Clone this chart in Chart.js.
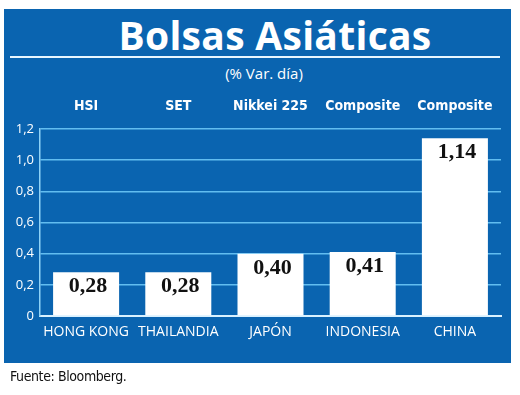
<!DOCTYPE html>
<html>
<head>
<meta charset="utf-8">
<script src="https://cdn.jsdelivr.net/npm/chart.js@4/dist/chart.umd.min.js"></script>
<style>
  html, body { margin: 0; padding: 0; background: #fff; }
  #wrap { position: relative; width: 520px; height: 395px; overflow: hidden; }
  #box { position: absolute; left: 4px; top: 9px; width: 507px; height: 354px; background: #0a64b0; }
  #title { position: absolute; left: 0; width: 550px; top: 13px; text-align: center; color: #fff;
           font: bold 39px 'Open Sans', sans-serif; line-height: 44px; letter-spacing: 0.3px; }
  #rule { position: absolute; left: 10px; width: 490px; top: 56px; height: 2px; background: #e8f6ff; }
  #sub { position: absolute; left: 0; width: 528px; top: 63px; text-align: center; color: #fff;
         font: 15px 'Open Sans', sans-serif; line-height: 20px; }
  #src { position: absolute; left: 10px; top: 368px; color: #111;
         font: 14px 'DejaVu Sans Condensed', sans-serif; letter-spacing: -0.4px; }
  canvas { position: absolute; left: 0; top: 0; }
</style>
</head>
<body>
<div id="wrap">
  <div id="box"></div>
  <div id="title">Bolsas Asiáticas</div>
  <div id="rule"></div>
  <div id="sub">(% Var. día)</div>
  <canvas id="chart" width="520" height="395"></canvas>
  <div id="src">Fuente: Bloomberg.</div>
</div>
<script>
// data
const countries = ['HONG KONG', 'THAILANDIA', 'JAPÓN', 'INDONESIA', 'CHINA'];
const indices = ['HSI', 'SET', 'Nikkei 225', 'Composite', 'Composite'];
const dayChange = [0.28, 0.28, 0.40, 0.41, 1.14];

// value labels inside the top of each bar
const barLabels = {
    id: 'barLabels',
    afterDatasetsDraw(chart) {
        const ctx = chart.ctx;
        const meta = chart.getDatasetMeta(0);
        ctx.save();
        ctx.fillStyle = '#111';
        ctx.font = "bold 22px 'Liberation Serif', serif";
        ctx.textAlign = 'center';
        ctx.textBaseline = 'alphabetic';
        meta.data.forEach((bar, i) => {
            ctx.fillText(dayChange[i].toFixed(2).replace('.', ','), bar.x + 2, bar.y + 20);
        });
        ctx.restore();
    }
};

new Chart(document.getElementById('chart'), {
    type: 'bar',
    data: {
        labels: countries,
        datasets: [{
            data: dayChange,
            backgroundColor: '#ffffff',
            borderWidth: 0,
            categoryPercentage: 1,
            barPercentage: 0.716
        }]
    },
    options: {
        responsive: false,
        animation: false,
        layout: { padding: { left: 4, right: 19, top: 90, bottom: 32 } },
        plugins: { legend: { display: false }, tooltip: { enabled: false } },
        scales: {
            x: {
                position: 'bottom',
                grid: { display: false, drawTicks: false },
                border: { display: true, color: '#d9f1ff', width: 2 },
                ticks: {
                    color: '#ffffff',
                    padding: 8,
                    font: { family: "'Open Sans', sans-serif", size: 14 }
                },
                afterFit(scale) { scale.height = 47; }
            },
            xTop: {
                type: 'category',
                labels: indices,
                position: 'top',
                offset: true,
                grid: { display: false, drawTicks: false },
                border: { display: false },
                ticks: {
                    color: '#ffffff',
                    padding: 14,
                    font: { family: "'DejaVu Sans Condensed', sans-serif", size: 14, weight: 'bold' }
                },
                afterFit(scale) { scale.height = 39; }
            },
            y: {
                min: 0,
                max: 1.2,
                grid: { color: '#62bdf0', lineWidth: 1.5, drawTicks: false },
                border: { display: true, color: '#8fd3f7', width: 1.5 },
                ticks: {
                    stepSize: 0.2,
                    color: '#ffffff',
                    padding: 6,
                    font: { family: "'Open Sans', sans-serif", size: 13 },
                    callback: v => v === 0 ? '0' : v.toFixed(1).replace('.', ',')
                },
                afterFit(scale) { scale.width = 36; }
            }
        }
    },
    plugins: [barLabels]
});
</script>
</body>
</html>
